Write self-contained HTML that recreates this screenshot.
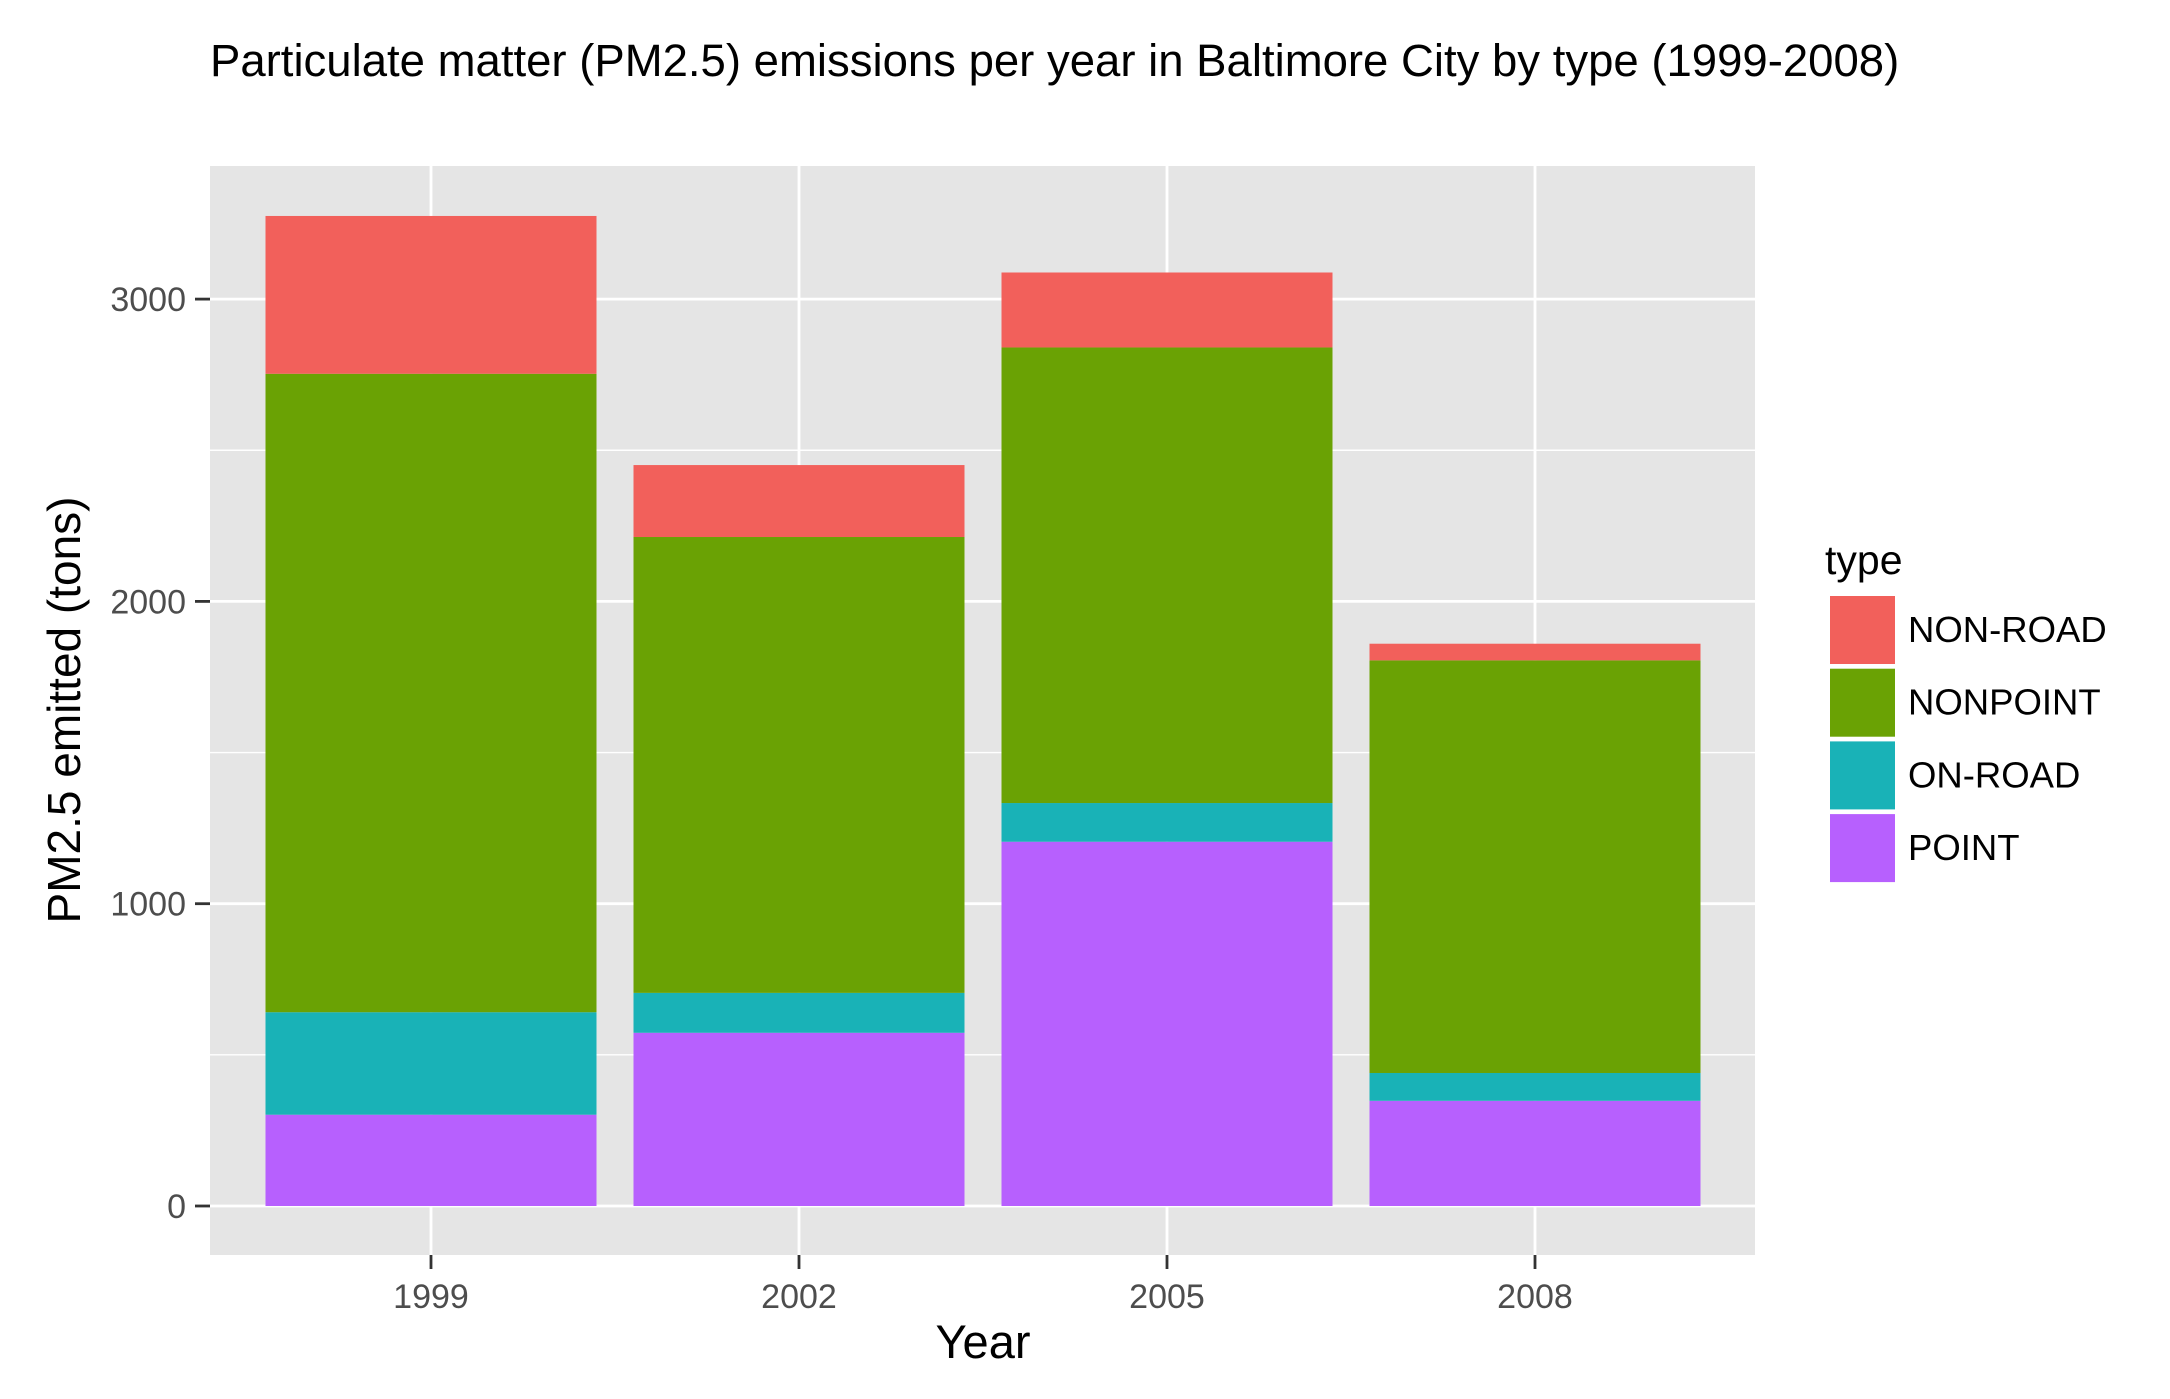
<!DOCTYPE html>
<html><head><meta charset="utf-8"><style>
body{margin:0;background:#fff;}
svg{display:block;font-family:"Liberation Sans",Arial,sans-serif;}
</style></head><body>
<svg id="chart" width="2170" height="1399" viewBox="0 0 2170 1399">
<text x="210" y="76" font-size="45.5" fill="#000">Particulate matter (PM2.5) emissions per year in Baltimore City by type (1999-2008)</text>
<rect x="210" y="166" width="1545" height="1089" fill="#e5e5e5"/>
<g id="grid"></g><g id="bars"></g><g id="axes"></g>
<text x="983" y="1358" font-size="47" text-anchor="middle" fill="#000">Year</text>
<text transform="translate(80,710) rotate(-90)" font-size="46" text-anchor="middle" fill="#000">PM2.5 emitted (tons)</text>
<g id="legend">
<text x="1825" y="574" font-size="41" fill="#000">type</text>
</g>
</svg>
<script>
const years = ["1999","2002","2005","2008"];
const types = ["NON-ROAD","NONPOINT","ON-ROAD","POINT"];
const pointVals = [302, 573, 1205, 348];
const onroadVals = [339, 132, 128, 92];
const nonpointVals = [2112, 1508, 1507, 1365];
const nonroadVals = [522, 238, 248, 55];
const yTicks = [0, 1000, 2000, 3000];
const realColors = {"NON-ROAD":"#f2605b","NONPOINT":"#6aa204","ON-ROAD":"#19b2b7","POINT":"#b760fe"};
const NS="http://www.w3.org/2000/svg";
const px0=210, px1=1755, py0=166, py1=1255;
function yScale(v){return 1206 - v*0.3023;}
function xScale(i){return 431 + i*368;}
const bw=331;
function mk(tag,attrs,parent){const e=document.createElementNS(NS,tag);for(const k in attrs)e.setAttribute(k,attrs[k]);parent.appendChild(e);return e;}
const grid=document.getElementById('grid'), bars=document.getElementById('bars'), axes=document.getElementById('axes'), legend=document.getElementById('legend');
for(let i=0;i<yTicks.length;i++){
  const m=yTicks[i]+500; const y=yScale(m);
  if(y>py0){const l=mk('line',{x1:px0,x2:px1,y1:y,y2:y,stroke:'#fff','stroke-width':1.4},grid);
  
  }
}
yTicks.forEach(t=>{const y=yScale(t);
  const l=mk('line',{x1:px0,x2:px1,y1:y,y2:y,stroke:'#fff','stroke-width':2.8},grid);
  
  
  const tk=mk('line',{x1:195,x2:210,y1:y,y2:y,stroke:'#333','stroke-width':2.8},axes);
  
  
  const tx=mk('text',{x:186,y:y+12,'font-size':34,'text-anchor':'end',fill:'#4d4d4d'},axes);
  tx.textContent=t;
  
  
});
years.forEach((yr,i)=>{const x=xScale(i);
  const l=mk('line',{x1:x,x2:x,y1:py0,y2:py1,stroke:'#fff','stroke-width':2.8},grid);
  
  
  const tk=mk('line',{x1:x,x2:x,y1:py1,y2:py1+14,stroke:'#333','stroke-width':2.8},axes);
  
  
  const tx=mk('text',{x:x,y:1308,'font-size':34,'text-anchor':'middle',fill:'#4d4d4d'},axes);
  tx.textContent=yr;
  
  
  const stack=[["POINT",pointVals[i]],["ON-ROAD",onroadVals[i]],["NONPOINT",nonpointVals[i]],["NON-ROAD",nonroadVals[i]]];
  let base=0;
  stack.forEach(([tp,v])=>{const yb=yScale(base), yt=yScale(base+v);
    const r=mk('rect',{x:x-bw/2,y:yt,width:bw,height:yb-yt,fill:realColors[tp]},bars);
    
    
    base+=v;});
});
types.forEach((tp,i)=>{const y=596+i*72.7;
  const r=mk('rect',{x:1830,y:y,width:65,height:68,fill:realColors[tp]},legend);
  
  
  const t=mk('text',{x:1908,y:y+46,'font-size':36.5,fill:'#000'},legend);
  t.textContent=tp;
  
  
});
</script>
</body></html>
